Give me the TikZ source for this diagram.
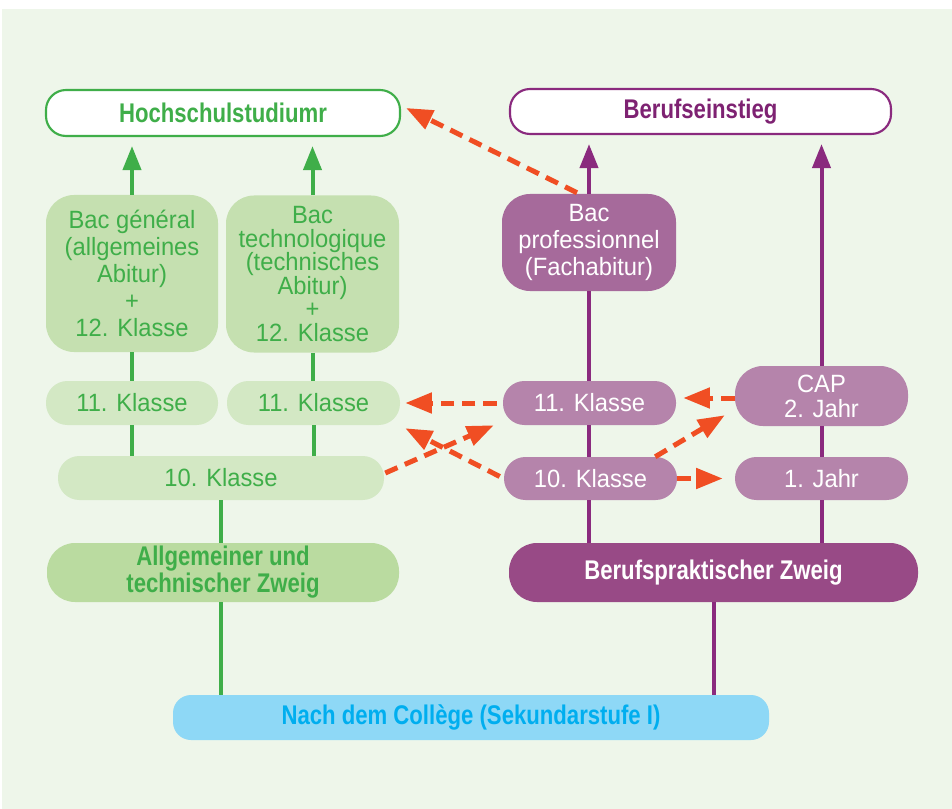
\documentclass[tikz,border=0pt]{standalone}
\usepackage{fontspec}
\setmainfont{Liberation Sans}[FakeStretch=0.95]
\newfontfamily\bcond{Liberation Sans}[FakeStretch=0.82]
\usetikzlibrary{arrows.meta}
\definecolor{bg}{HTML}{EEF6EA}
\definecolor{gline}{HTML}{3FAE49}
\definecolor{gtext}{HTML}{3FAE49}
\definecolor{gbac}{HTML}{C5E0B0}
\definecolor{gkl}{HTML}{D3E8C4}
\definecolor{gzw}{HTML}{BADBA0}
\definecolor{pline}{HTML}{8A2A7E}
\definecolor{ptext}{HTML}{7E2272}
\definecolor{pbac}{HTML}{A66A9B}
\definecolor{pkl}{HTML}{B584AB}
\definecolor{pzw}{HTML}{984A86}
\definecolor{bfill}{HTML}{8ED8F6}
\definecolor{btext}{HTML}{00AEEF}
\definecolor{orng}{HTML}{F04E23}
\tikzset{
  box/.style={rounded corners=16pt, inner sep=0pt, align=center,
    font=\fontsize{18.75}{20.25}\selectfont},
  bbox/.style={box, font=\bcond\bfseries\fontsize{20.25}{20.25}\selectfont},
  gk/.style={box, fill=gkl, text=gtext, minimum height=33pt},
  pk/.style={box, fill=pkl, text=white, minimum width=129.75pt, minimum height=33pt},
  gl/.style={draw=gline, line width=3pt},
  pl/.style={draw=pline, line width=3pt},
  garr/.style={gl, -{Triangle[length=18pt,width=13.5pt]}, shorten >=6.75pt},
  parr/.style={pl, -{Triangle[length=18pt,width=13.5pt]}, shorten >=6.75pt},
  oarr/.style={draw=orng, line width=3.75pt, dash pattern=on 10pt off 6pt,
    -{Triangle[length=20pt,width=15pt]}}
}
\begin{document}
\begin{tikzpicture}[x=0.75pt,y=-0.75pt]
\useasboundingbox (0,0) rectangle (952,809);
\fill[white] (0,0) rectangle (952,809);
\fill[bg] (2,9) rectangle (952,809);

% top targets
\node[bbox, draw=gline, line width=1.6pt, fill=white, text=gtext, rounded corners=15pt,
  minimum width=265.5pt, minimum height=34.5pt] (hoch) at (223,113) {Hochschulstudiumr};
\node[bbox, draw=pline, line width=1.6pt, fill=white, text=ptext, rounded corners=15pt,
  minimum width=285.75pt, minimum height=33.75pt] (beruf) at (700.5,111.5) {Berufseinstieg};

% green column
\node[box, fill=gbac, text=gtext, rounded corners=21pt, minimum width=129pt, minimum height=117.75pt]
  (bacg) at (132,273.5) {Bac général\\(allgemeines\\Abitur)\\+\\12. Klasse};
\node[box, fill=gbac, text=gtext, rounded corners=21pt, minimum width=129.75pt, minimum height=117.75pt,
  font=\fontsize{18.75}{17.6}\selectfont]
  (bact) at (312.5,274) {Bac\\technologique\\(technisches\\Abitur)\\+\\12. Klasse};
\node[gk, minimum width=129pt] (k11a) at (132,403) {11. Klasse};
\node[gk, minimum width=129.75pt] (k11b) at (313.5,403) {11. Klasse};
\node[gk, minimum width=244.5pt] (k10g) at (221,478) {10. Klasse};
\node[bbox, fill=gzw, text=gtext, rounded corners=21pt, minimum width=264pt, minimum height=44.25pt]
  (allg) at (223,572.5) {Allgemeiner und\\technischer Zweig};

% purple column
\node[box, fill=pbac, text=white, rounded corners=21pt, minimum width=130.5pt, minimum height=72.75pt]
  (bacp) at (589,242.5) {Bac\\professionnel\\(Fachabitur)};
\node[pk] (k11p) at (589.5,403) {11. Klasse};
\node[pk, minimum height=32.25pt] (k10p) at (590.5,478.5) {10. Klasse};
\node[pk, rounded corners=21pt, minimum height=45pt, font=\fontsize{18.75}{18.75}\selectfont]
  (cap) at (821.5,396) {CAP\\2. Jahr};
\node[pk, minimum height=32.25pt] (j1) at (821.5,478.5) {1. Jahr};
\node[bbox, fill=pzw, text=white, rounded corners=21pt, minimum width=306.75pt, minimum height=44.25pt]
  (bpz) at (713.5,572.5) {Berufspraktischer Zweig};

% bottom
\node[bbox, fill=bfill, text=btext, rounded corners=13.5pt, minimum width=447pt, minimum height=33.75pt]
  (nach) at (471,717.5) {Nach dem Collège (Sekundarstufe I)};

% green lines
\draw[garr] (bacg.north) -- (bacg.north |- hoch.south);
\draw[garr] (bact.north) -- (bact.north |- hoch.south);
\draw[gl] (bacg.south) -- (bacg.south |- k11a.north);
\draw[gl] (bact.south) -- (bact.south |- k11b.north);
\draw[gl] (k11a.south) -- (k11a.south |- k10g.north);
\draw[gl] (k11b.south) -- (k11b.south |- k10g.north);
\draw[gl] (k10g.south) -- (k10g.south |- allg.north);
\draw[gl] (k10g.south |- allg.south) -- (k10g.south |- nach.north);

% purple lines
\draw[parr] (bacp.north) -- (bacp.north |- beruf.south);
\draw[parr] (cap.north) -- (cap.north |- beruf.south);
\draw[pl] (bacp.south) -- (bacp.south |- k11p.north);
\draw[pl] (bacp.south |- k11p.south) -- (bacp.south |- k10p.north);
\draw[pl] (bacp.south |- k10p.south) -- (bacp.south |- bpz.north);
\draw[pl] (cap.south) -- (cap.south |- j1.north);
\draw[pl] (j1.south) -- (j1.south |- bpz.north);
\draw[pl] (bpz.south) -- (bpz.south |- nach.north);

% orange dashed arrows
\draw[oarr] ([xshift=-9pt,yshift=0.75pt]bacp.north) -- ([xshift=3.75pt,yshift=3.75pt]hoch.east);
\draw[oarr] ([xshift=-4.5pt]k11p.west) -- ([xshift=3.75pt]k11b.east);
\draw[oarr] ([xshift=-3pt,yshift=1.5pt]k10p.west) -- ([xshift=3.75pt,yshift=-2.25pt]k11b.south east);
\draw[oarr] ([xshift=0.75pt,yshift=3.75pt]k10g.east) -- ([xshift=-6.75pt]k11p.south west);
\draw[oarr] ([yshift=-1.5pt]cap.west) -- ([xshift=5.25pt,yshift=3.75pt]k11p.east);
\draw[oarr] ([xshift=-16.5pt]k10p.north east) -- ([xshift=-7.5pt,yshift=8.25pt]cap.south west);
\draw[oarr] (k10p.east) -- ([xshift=-9pt]j1.west);
\end{tikzpicture}
\end{document}
